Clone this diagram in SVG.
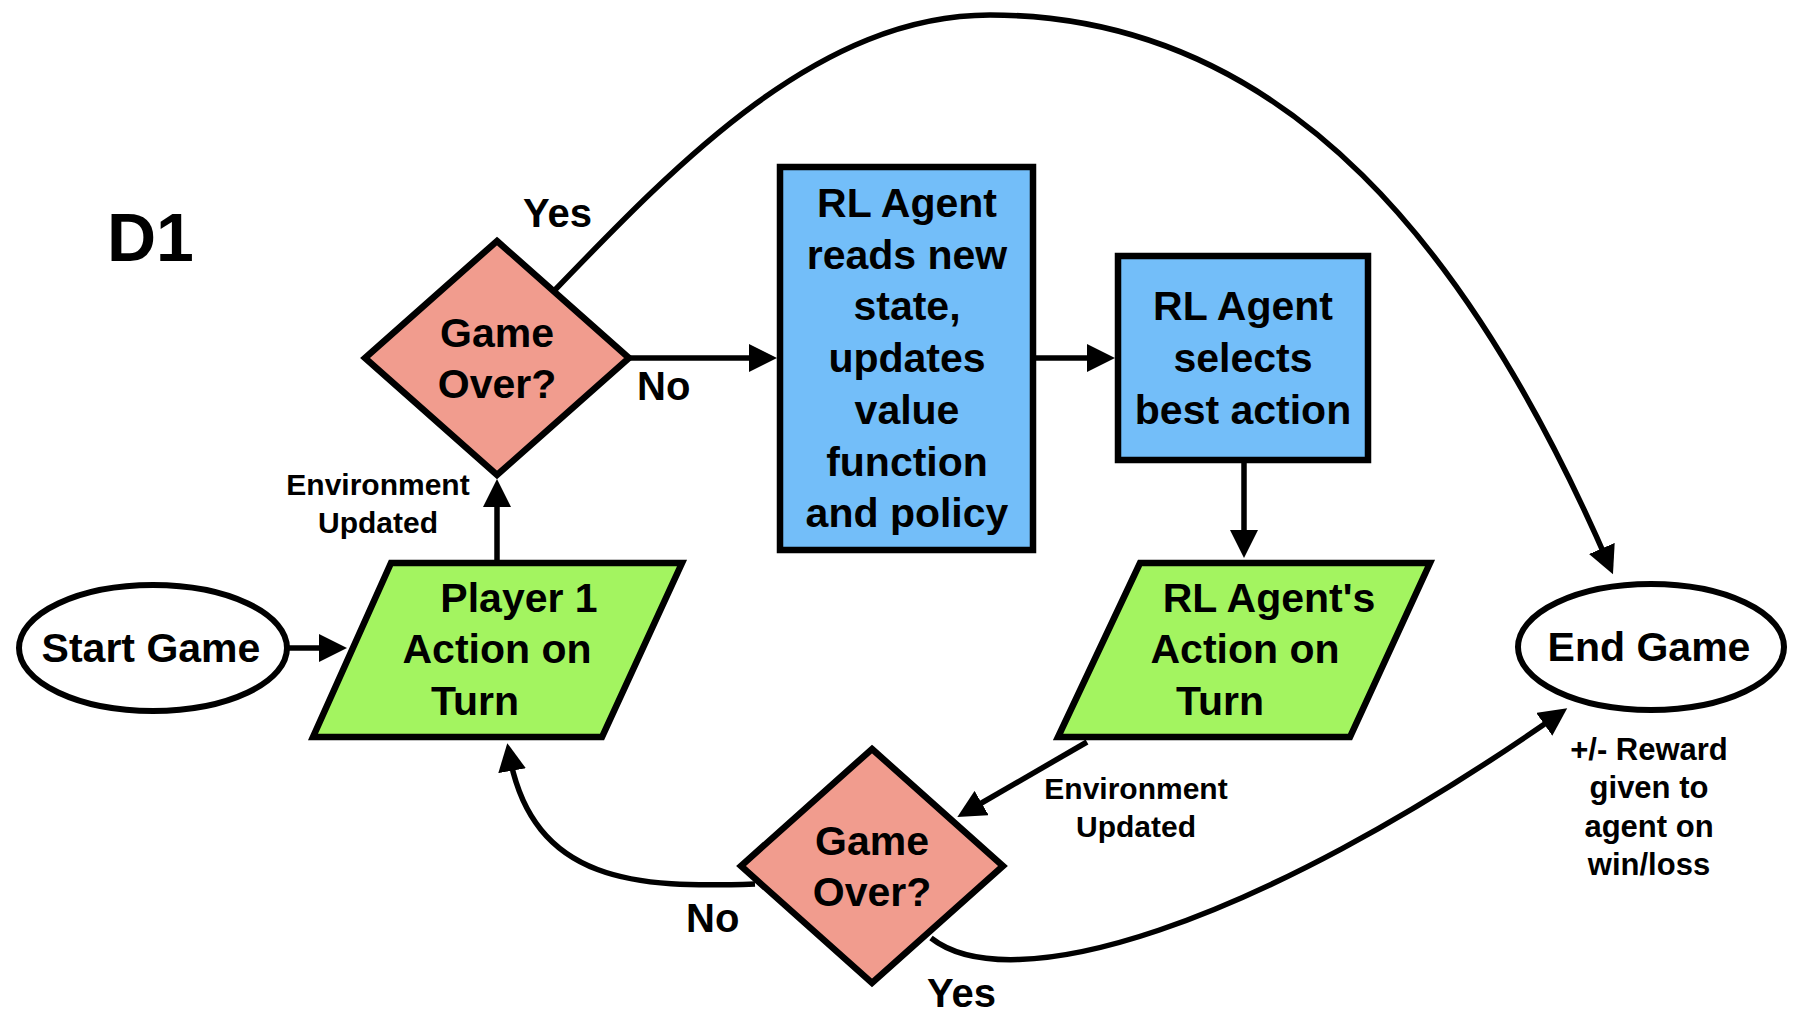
<svg xmlns="http://www.w3.org/2000/svg" width="1798" height="1030" viewBox="0 0 1798 1030">
<defs>
<style>
text{font-family:"Liberation Sans",Arial,Helvetica,sans-serif;font-weight:bold;fill:#000}
.lbl{font-size:41px;text-anchor:middle}
.sm{font-size:30px;text-anchor:middle}
.rw{font-size:31px;text-anchor:middle}
.edge{font-size:40px}
.title{font-size:68px}
.conn{fill:none;stroke:#000;stroke-width:5.5;marker-end:url(#ah)}
.term{fill:#fff;stroke:#000;stroke-width:6}
.dec{fill:#F19C8E;stroke:#000;stroke-width:6.5;stroke-linejoin:miter}
.proc{fill:#73BEF9;stroke:#000;stroke-width:6.5}
.io{fill:#A3F460;stroke:#000;stroke-width:6.5;stroke-linejoin:miter}
</style>
<marker id="ah" markerUnits="userSpaceOnUse" markerWidth="30" markerHeight="28" refX="18" refY="14" orient="auto">
<path d="M0,0 L28,14 L0,28 z" fill="#000"/>
</marker>
</defs>
<rect width="1798" height="1030" fill="#fff"/>

<g id="connectors">
<path class="conn" d="M289 648 L337 648"/>
<path class="conn" d="M497 560 L497 489"/>
<path class="conn" d="M629 358 L767 358"/>
<path class="conn" d="M1033 358 L1105 358"/>
<path class="conn" d="M1244 460 L1244 548"/>
<path class="conn" d="M1087 742 L966 812"/>
<path class="conn" d="M553 292 C680 160 820 15 990 15 C1290 15 1476 258 1609 565"/>
<path class="conn" d="M755 884 C640 888 532 885 509 753"/>
<path class="conn" d="M931 938 C1010 1000 1250 930 1559 714"/>
</g>

<g id="start">
<ellipse class="term" cx="153" cy="648" rx="134" ry="63"/>
<text class="lbl" x="151" y="662">Start Game</text>
</g>

<g id="player1">
<polygon class="io" points="391,563 682,563 602,737 313,737"/>
<text class="lbl" x="519" y="612">Player 1</text>
<text class="lbl" x="497" y="663">Action on</text>
<text class="lbl" x="475" y="715">Turn</text>
</g>

<g id="gameover1">
<polygon class="dec" points="497,241 629,358 497,475 365,358"/>
<text class="lbl" x="497" y="347">Game</text>
<text class="lbl" x="497" y="398">Over?</text>
</g>

<g id="rlread">
<rect class="proc" x="780" y="167" width="253" height="383"/>
<text class="lbl" x="907" y="217">RL Agent</text>
<text class="lbl" x="907" y="269">reads new</text>
<text class="lbl" x="907" y="320">state,</text>
<text class="lbl" x="907" y="372">updates</text>
<text class="lbl" x="907" y="424">value</text>
<text class="lbl" x="907" y="476">function</text>
<text class="lbl" x="907" y="527">and policy</text>
</g>

<g id="rlselect">
<rect class="proc" x="1118" y="256" width="250" height="204"/>
<text class="lbl" x="1243" y="320">RL Agent</text>
<text class="lbl" x="1243" y="372">selects</text>
<text class="lbl" x="1243" y="424">best action</text>
</g>

<g id="rlaction">
<polygon class="io" points="1140,563 1430,563 1350,737 1058,737"/>
<text class="lbl" x="1269" y="612">RL Agent's</text>
<text class="lbl" x="1245" y="663">Action on</text>
<text class="lbl" x="1220" y="715">Turn</text>
</g>

<g id="gameover2">
<polygon class="dec" points="872,749 1003,866 872,983 741,866"/>
<text class="lbl" x="872" y="855">Game</text>
<text class="lbl" x="872" y="906">Over?</text>
</g>

<g id="end">
<ellipse class="term" cx="1651" cy="647" rx="133" ry="63"/>
<text class="lbl" x="1649" y="661">End Game</text>
</g>

<g id="labels">
<text class="title" x="107" y="261">D1</text>
<text class="edge" x="523" y="227">Yes</text>
<text class="edge" x="637" y="400">No</text>
<text class="sm" x="378" y="495">Environment</text>
<text class="sm" x="378" y="533">Updated</text>
<text class="sm" x="1136" y="799">Environment</text>
<text class="sm" x="1136" y="837">Updated</text>
<text class="edge" x="686" y="932">No</text>
<text class="edge" x="927" y="1007">Yes</text>
<text class="rw" x="1649" y="760">+/- Reward</text>
<text class="rw" x="1649" y="798">given to</text>
<text class="rw" x="1649" y="837">agent on</text>
<text class="rw" x="1649" y="875">win/loss</text>
</g>
</svg>
